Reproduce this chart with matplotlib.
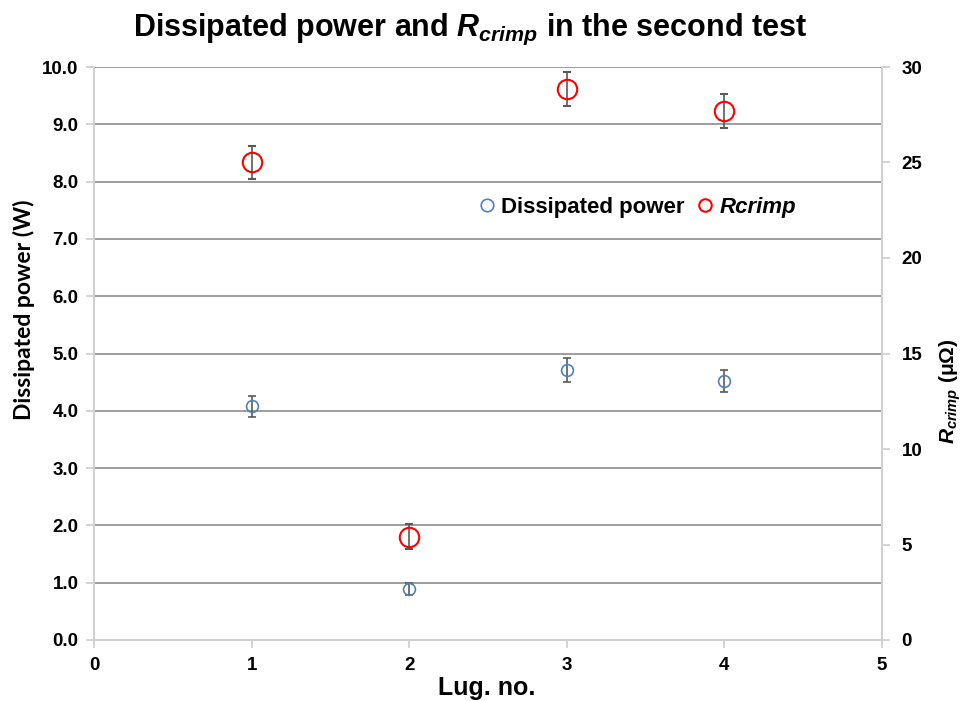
import matplotlib
matplotlib.use("Agg")
import matplotlib.pyplot as plt
from matplotlib.lines import Line2D
import numpy as np

plt.rcParams['font.family'] = ['Liberation Sans', 'DejaVu Sans']
plt.rcParams['mathtext.fontset'] = 'custom'
plt.rcParams['mathtext.it'] = 'Liberation Sans:italic:bold'
plt.rcParams['mathtext.rm'] = 'Liberation Sans:bold'
plt.rcParams['mathtext.bf'] = 'Liberation Sans:bold'

# Lug numbers and measured values
lugs = [1, 2, 3, 4]
power = [4.08, 0.89, 4.71, 4.52]          # W
power_err = [0.18, 0.11, 0.21, 0.20]
rcrimp = [25.0, 5.4, 28.85, 27.7]         # micro-ohm
rcrimp_err = [0.86, 0.65, 0.9, 0.9]

left_ticks = np.arange(0, 10.1, 1.0)
right_ticks = [0, 5, 10, 15, 20, 25, 30]
x_ticks = [0, 1, 2, 3, 4, 5]

spine_col = '#d0d0d0'
grid_col = '#8c8c8c'
err_col = '#595959'

fig = plt.figure(figsize=(9.65, 7.01), dpi=100)
ax = fig.add_axes([94 / 965, 1 - 640 / 701, (882 - 94) / 965, (640 - 67) / 701])
ax2 = ax.twinx()

ax.set_xlim(0, 5)
ax.set_ylim(0, 10)
ax2.set_ylim(0, 30)

ax.set_yticks(left_ticks)
ax.set_yticklabels(['%.1f' % v for v in left_ticks])
ax2.set_yticks(right_ticks)
ax.set_xticks(x_ticks)

for v in left_ticks[1:]:
    ax.axhline(v, color=grid_col, lw=1.2, zorder=0)

for a in (ax, ax2):
    for s in a.spines.values():
        s.set_color(spine_col)
        s.set_linewidth(1.3)
    a.spines['top'].set_visible(False)
    a.tick_params(colors=spine_col, width=1.3, length=6, labelsize=13.5, labelcolor='black')
    for lab in a.get_yticklabels() + a.get_xticklabels():
        lab.set_fontweight('bold')
ax.tick_params(axis='y', pad=5)
ax.tick_params(axis='x', pad=6)
ax2.tick_params(axis='y', pad=8)

ax.errorbar(lugs, power, yerr=power_err, fmt='o', ms=8.5, mfc='none', mec='#4f81bd',
            mew=1.2, ecolor=err_col, elinewidth=1.2, capsize=3, capthick=1.2,
            label='Dissipated power', zorder=3)
ax2.errorbar(lugs, rcrimp, yerr=rcrimp_err, fmt='o', ms=14, mfc='none', mec='#ff0000',
             mew=1.5, ecolor=err_col, elinewidth=1.2, capsize=3, capthick=1.2,
             label='$Rcrimp$', zorder=3)

ax.set_ylabel('Dissipated power (W)', fontsize=16.5, fontweight='bold', family=['Lato', 'DejaVu Sans'])
ax.yaxis.set_label_coords(-0.075, 0.576)
ax.set_xlabel('Lug. no.', fontsize=18, fontweight='bold', va='top')
ax.xaxis.set_label_coords(0.498, -0.062)
ax2.set_ylabel(r'$R_{crimp}$ ($\mathrm{\mu\Omega}$)', fontsize=15, fontweight='bold')
ax2.yaxis.set_label_coords(1.07, 0.435)

fig.suptitle(r'Dissipated power and $R_{crimp}$ in the second test', fontsize=22,
             fontweight='bold', x=0.487, y=0.983)

handles = [Line2D([], [], marker='o', ls='none', ms=9, mfc='none', mec='#4f81bd', mew=1.2),
           Line2D([], [], marker='o', ls='none', ms=9, mfc='none', mec='#ff0000', mew=1.5)]
leg = ax.legend(handles, ['Dissipated power', 'Rcrimp'], loc='center', bbox_to_anchor=(0.686, 0.755),
                ncol=2, frameon=False, handletextpad=0.05, columnspacing=0.3, handlelength=1.2,
                prop={'size': 16, 'weight': 'bold'})
leg.get_texts()[1].set_style('italic')

fig.savefig('out.png', dpi=100)
